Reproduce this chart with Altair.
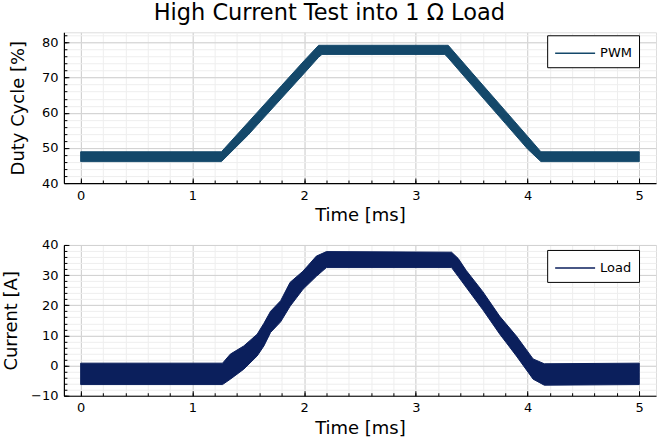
import altair as alt
import pandas as pd

# ---- data ----
# PWM duty cycle [%]: noisy trace drawn as its lower/upper envelope
pwm_t = [0.0, 1.26, 1.5, 1.8, 2.0, 2.13, 2.16, 3.26, 3.29, 3.5, 3.8, 4.0, 4.12, 5.0]
pwm_lo = [46.1, 46.1, 53.7, 64.2, 71.2, 75.8, 76.6, 76.6, 75.6, 67.9, 57.0, 49.7, 46.1, 46.1]
pwm_hi = [48.9, 48.9, 57.3, 67.8, 74.8, 79.2, 79.2, 79.2, 79.2, 71.5, 60.6, 53.3, 48.9, 48.9]

# Load current [A]
cur_t = [0.0, 1.27, 1.34, 1.46, 1.58, 1.64, 1.70, 1.79, 1.875, 1.99, 2.11, 2.2,
         3.32, 3.38, 3.45, 3.6, 3.75, 3.9, 4.05, 4.15, 5.0]
cur_lo = [-6.3, -6.3, -4.5, -1.2, 3.2, 6.5, 11.0, 14.5, 19.7, 25.3, 29.6, 32.5,
          32.5, 29.5, 26.0, 18.5, 10.5, 3.2, -4.5, -6.5, -6.3]
cur_hi = [0.8, 0.8, 3.8, 6.5, 10.4, 14.0, 18.0, 21.5, 27.6, 31.3, 36.3, 37.8,
          37.6, 35.5, 31.6, 24.5, 16.4, 9.8, 2.2, 0.6, 0.8]

x_major = [0, 1, 2, 3, 4, 5]
x_minor = [i / 5 for i in range(0, 26)]
pwm_major = [40, 50, 60, 70, 80]
pwm_minor = list(range(40, 83, 2))
cur_major = [-10, 0, 10, 20, 30, 40]
cur_minor = list(range(-10, 41, 2))

FONT = "DejaVu Sans"
MAJOR = "#d0d0d0"
MINOR = "#eeeeee"
W = 593


def panel(t, lo, hi, name, color, ytitle, ydom, ymaj, ymin, H, ytp, legy):
    df = pd.DataFrame({"t": t, "lo": lo, "hi": hi, "series": [name] * len(t)})
    xs = alt.Scale(domain=[-0.15, 5.15], nice=False, zero=False)
    ys = alt.Scale(domain=ydom, nice=False, zero=False)
    base = alt.Chart(df)

    def inv(xaxis, yaxis):
        return base.mark_area(opacity=0).encode(
            x=alt.X("t:Q", scale=xs, axis=xaxis),
            y=alt.Y("lo:Q", scale=ys, axis=yaxis),
            y2="hi:Q",
        )

    minor = inv(
        alt.Axis(orient="bottom", values=x_minor, grid=True, gridColor=MINOR,
                 labels=False, ticks=False, domain=False, title=None),
        alt.Axis(orient="left", values=ymin, grid=True, gridColor=MINOR,
                 labels=False, ticks=False, domain=False, title=None),
    )
    band = base.mark_area(stroke=color, strokeWidth=1).encode(
        x=alt.X("t:Q", scale=xs,
                axis=alt.Axis(orient="bottom", values=x_major, grid=True, gridColor=MAJOR,
                              ticks=False, tickSize=0, domain=True, domainColor="black",
                              domainWidth=1.2, labelFont=FONT, labelFontSize=13,
                              labelColor="black", labelPadding=6, format="d",
                              title="Time [ms]", titleFont=FONT, titleFontSize=18,
                              titleFontWeight="normal", titleColor="black",
                              titlePadding=5)),
        y=alt.Y("lo:Q", scale=ys,
                axis=alt.Axis(orient="left", values=ymaj, grid=True, gridColor=MAJOR,
                              ticks=False, tickSize=0, domain=True, domainColor="black",
                              domainWidth=1.2, labelFont=FONT, labelFontSize=13,
                              labelColor="black", labelPadding=6, format="d",
                              title=ytitle, titleFont=FONT, titleFontSize=18,
                              titleFontWeight="normal", titleColor="black",
                              titlePadding=ytp)),
        y2="hi:Q",
        color=alt.Color("series:N", scale=alt.Scale(domain=[name], range=[color]),
                        legend=alt.Legend(title=None, orient="none", legendX=484, legendY=legy,
                                          symbolType="M-1,0H3", symbolSize=400,
                                          symbolStrokeColor=color, symbolStrokeWidth=1.5,
                                          symbolFillColor="transparent",
                                          labelOffset=24,
                                          labelFont=FONT, labelFontSize=13,
                                          labelColor="black", padding=7,
                                          strokeColor="black", fillColor="white",
                                          cornerRadius=0)),
    )
    tmaj = inv(
        alt.Axis(orient="top", offset=-H, values=x_major, ticks=True, tickSize=5,
                 tickColor="black", labels=False, grid=False, domain=False, title=None),
        alt.Axis(orient="right", offset=-W, values=ymaj, ticks=True, tickSize=5,
                 tickColor="black", labels=False, grid=False, domain=False, title=None),
    )
    tmin = inv(
        alt.Axis(orient="top", offset=-H, values=x_minor, ticks=True, tickSize=3,
                 tickColor="black", labels=False, grid=False, domain=False, title=None),
        alt.Axis(orient="right", offset=-W, values=ymin, ticks=True, tickSize=3,
                 tickColor="black", labels=False, grid=False, domain=False, title=None),
    )
    return alt.layer(minor, band, tmaj, tmin).resolve_axis(
        x="independent", y="independent"
    ).properties(width=W, height=H)


top = panel(pwm_t, pwm_lo, pwm_hi, "PWM", "#14486a", "Duty Cycle [%]",
            [40, 82.9], pwm_major, pwm_minor, 151, 14, 3)
bottom = panel(cur_t, cur_lo, cur_hi, "Load", "#0b1f5c", "Current [A]",
               [-10, 40], cur_major, cur_minor, 151, 10, 5)

chart = alt.vconcat(top, bottom, spacing=12).resolve_scale(
    color="independent"
).resolve_legend(color="independent").properties(
    title=alt.TitleParams("High Current Test into 1 \u03a9 Load", font=FONT, fontSize=22.5,
                          fontWeight="normal", color="black", anchor="middle", offset=7),
    padding={"left": 2, "top": 2, "right": 0, "bottom": 0},
).configure_view(stroke=None).configure(background="white")

chart.save("out.html", embed_options={"renderer": "svg", "actions": False})
